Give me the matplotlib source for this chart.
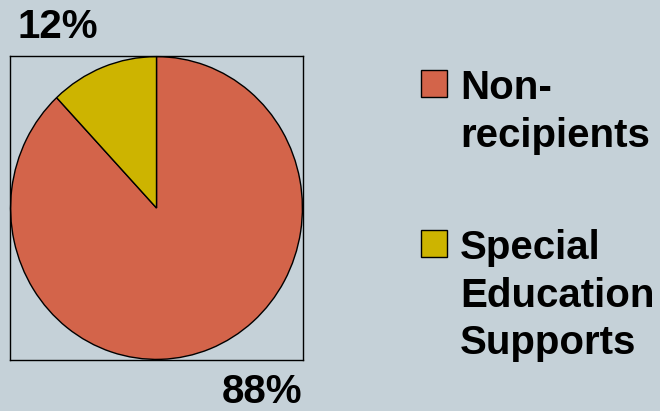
import matplotlib
matplotlib.use("Agg")
import matplotlib.pyplot as plt
from matplotlib.patches import Rectangle

# Share of students by support status
categories = ["Non-recipients", "Special Education Supports"]
legend_labels = ["Non-\nrecipients", "Special\nEducation\nSupports"]
shares = [88, 12]
colors = ["#D3644A", "#CDB400"]
bg = "#C5D1D8"

plt.rcParams["font.family"] = ["Liberation Sans", "DejaVu Sans"]

W, H = 660, 411
fig = plt.figure(figsize=(W / 100, H / 100), dpi=100, facecolor=bg)

# Pie axes framed by a thin black box
ax = fig.add_axes([10 / W, (H - 360) / H, 293 / W, 304 / H])
wedges, _ = ax.pie(shares, colors=colors, startangle=90, counterclock=False,
                   radius=1.0, center=(0, 0), frame=True,
                   wedgeprops=dict(edgecolor="black", linewidth=1.0))
ax.set_facecolor(bg)
ax.set_xlim(-1.004, 1.004)
ax.set_ylim(-1.004, 1.004)
ax.set_aspect("auto")
ax.set_xticks([])
ax.set_yticks([])
ax.set_frame_on(True)
for s in ax.spines.values():
    s.set_visible(True)
    s.set_color("black")
    s.set_linewidth(1.0)

# Percentage labels
fs = 29
fig.text(58 / W, 1 - 27 / H, f"{shares[1]}%", ha="center", va="center",
         fontsize=fs, fontweight="bold")
fig.text(262 / W, 1 - 392 / H, f"{shares[0]}%", ha="center", va="center",
         fontsize=fs, fontweight="bold")

# Legend drawn as swatches with multi-line labels
legend_rows = [70, 230]
for w, lab, top in zip(wedges, legend_labels, legend_rows):
    fig.add_artist(Rectangle((421 / W, 1 - (top + 27) / H), 26 / W, 27 / H,
                             transform=fig.transFigure,
                             facecolor=w.get_facecolor(), edgecolor="black",
                             linewidth=1.0))
    fig.text(460 / W, 1 - (top - 1) / H, lab, ha="left", va="top",
             fontsize=fs, fontweight="bold", linespacing=1.32)

fig.savefig("out.png", dpi=100, facecolor=bg)
